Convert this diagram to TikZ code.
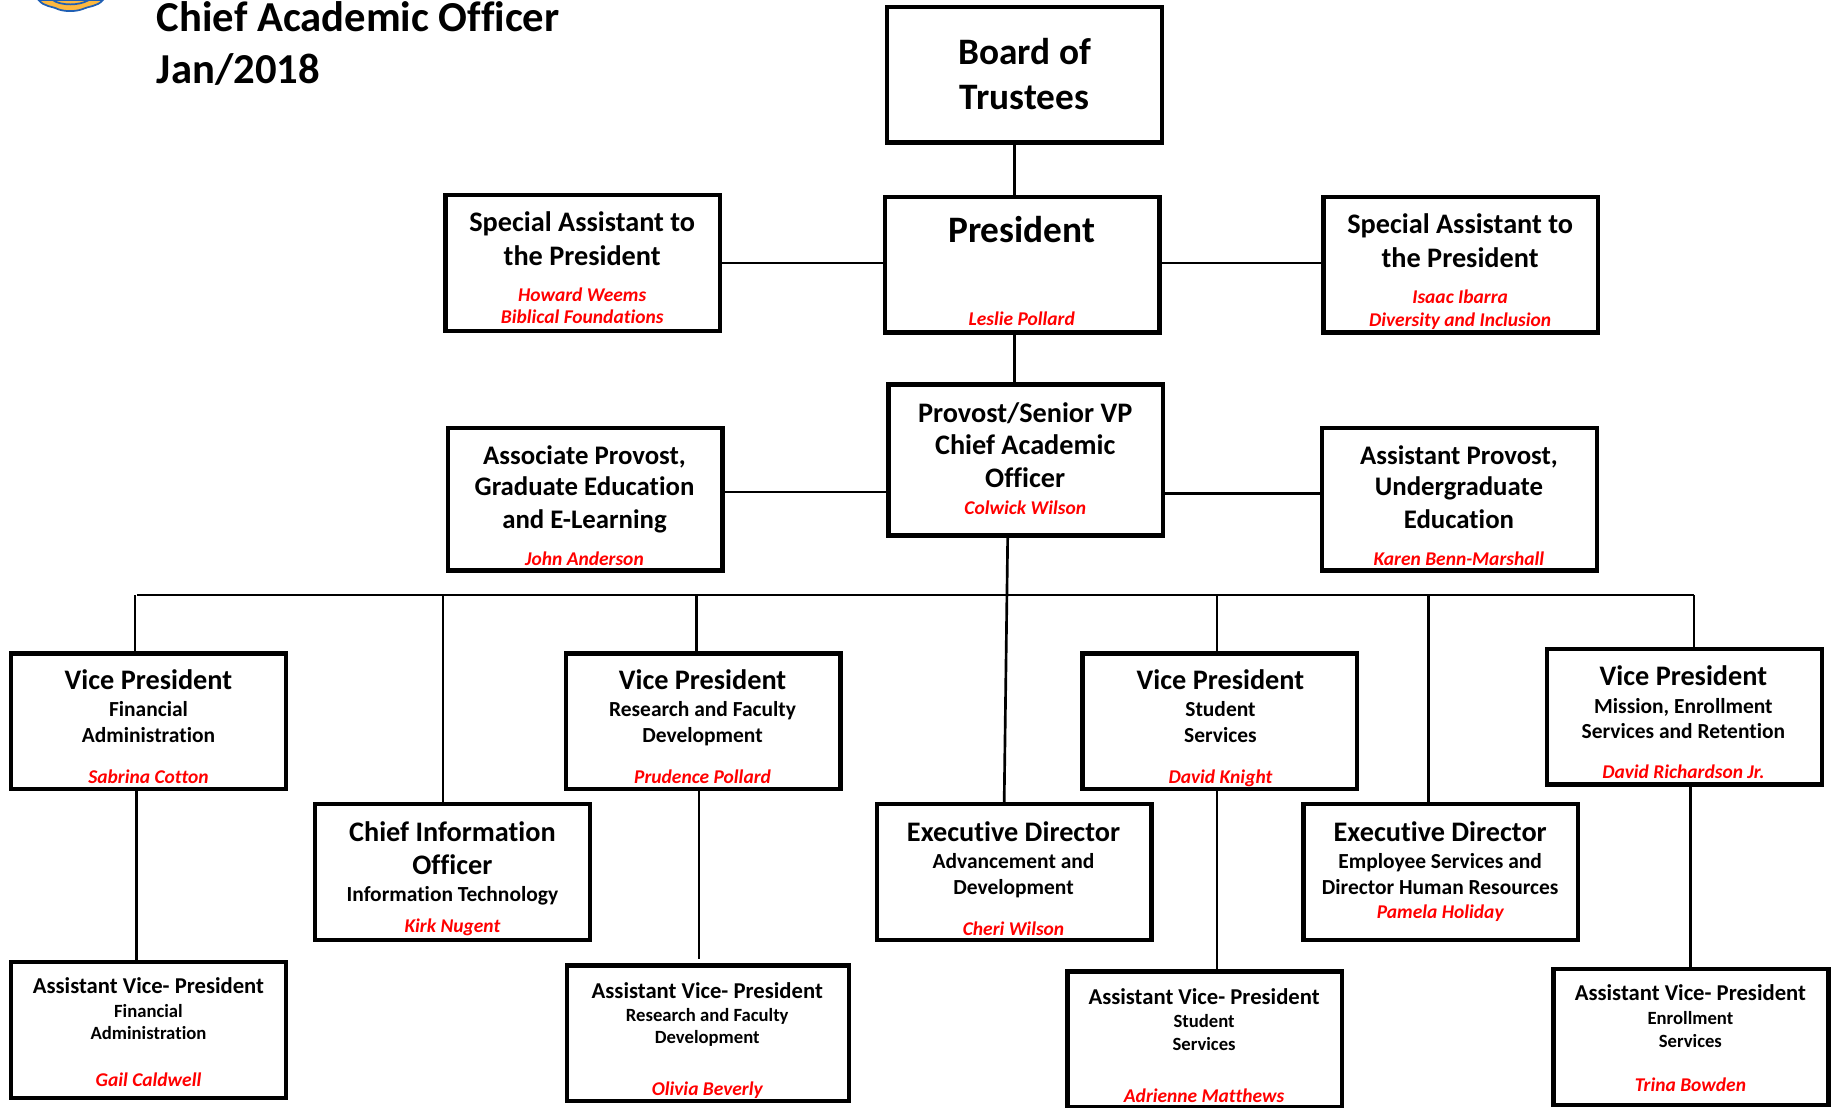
\documentclass[tikz,border=0pt]{standalone}
\usepackage{fontspec}
\setmainfont{Carlito}[Ligatures=NoCommon]
\definecolor{crestfill}{HTML}{FCB840}
\definecolor{crestline}{HTML}{1F5FB4}
\tikzset{
	orgbox/.style={draw, line width=3.3pt, minimum width=235*0.8767pt, minimum height=116*0.8767pt, inner sep=0pt},
	link/.style={line width=2pt},
	textbase/.style={anchor=base, inner sep=0pt, yshift=-0.9pt},
	headtext/.style={textbase, font=\bfseries\fontsize{21.2}{24}\selectfont},
	midhead/.style={textbase, font=\bfseries\fontsize{20.1}{24}\selectfont},
	bighead/.style={textbase, font=\bfseries\fontsize{28}{32}\selectfont},
	depttext/.style={textbase, font=\bfseries\fontsize{16.1}{19}\selectfont},
	smallhead/.style={textbase, font=\bfseries\fontsize{17}{20}\selectfont},
	smalldept/.style={textbase, font=\bfseries\fontsize{14}{17}\selectfont},
	persontext/.style={textbase, text=red, font=\bfseries\itshape\fontsize{14.6}{17}\selectfont},
	titletext/.style={anchor=base west, inner sep=0pt, font=\bfseries\fontsize{32}{36}\selectfont},
}
\begin{document}
\begin{tikzpicture}[x=0.8767pt, y=-0.8767pt]
	\useasboundingbox (0,0) rectangle (1568,947);
	% Crest, cut by the top edge
	\fill[crestfill, draw=crestline, line width=1.3pt] (33,0) .. controls (38,6) and (44,5) .. (50,8) .. controls (56,10) and (64,10) .. (70,8) .. controls (76,5) and (83,6) .. (88,0) -- cycle;
	\draw[crestline, line width=1.3pt] (45,0) .. controls (52,5) and (68,5) .. (76,0);

	% Heading
	\node[titletext] (heading1) at (134,27) {Chief Academic Officer};
	\node[titletext] (heading2) at (134,71) {Jan/2018};

	% Top of the chart
	\node[orgbox] (board) at (876.5,64) {};
	\node[bighead] (boardA) at (876.5,54) {Board of};
	\node[bighead] (boardB) at (876.5,93) {Trustees};

	\node[orgbox] (president) at (874.5,226.5) {};
	\node[bighead] (presidentA) at (874,206) {President};
	\node[persontext] (presidentP) at (874,277) {Leslie Pollard};

	\node[orgbox] (specleft) at (498.5,225) {};
	\node[headtext] (specleftA) at (498,197) {Special Assistant to};
	\node[headtext] (specleftB) at (498,226) {the President};
	\node[persontext] (specleftP) at (498,257) {Howard Weems};
	\node[persontext] (specleftQ) at (498,276) {Biblical Foundations};

	\node[orgbox] (specright) at (1249.5,226.5) {};
	\node[headtext] (specrightA) at (1249,199) {Special Assistant to};
	\node[headtext] (specrightB) at (1249,228) {the President};
	\node[persontext] (specrightP) at (1249,259) {Isaac Ibarra};
	\node[persontext] (specrightQ) at (1249,278) {Diversity and Inclusion};

	% Provost row
	\node[orgbox, minimum height=129*0.8767pt] (provost) at (877.5,393.5) {};
	\node[headtext] (provostA) at (877,360) {Provost/Senior VP};
	\node[headtext] (provostB) at (877,388) {Chief Academic};
	\node[headtext] (provostC) at (877,416) {Officer};
	\node[persontext] (provostP) at (877,439) {Colwick Wilson};

	\node[orgbox, minimum height=122*0.8767pt] (assocprov) at (500.5,427) {};
	\node[midhead] (assocprovA) at (500,396) {Associate Provost,};
	\node[midhead] (assocprovB) at (500,423) {Graduate Education};
	\node[midhead] (assocprovC) at (500,451) {and E-Learning};
	\node[persontext] (assocprovP) at (500,483) {John Anderson};

	\node[orgbox, minimum height=122*0.8767pt] (asstprov) at (1248.5,427) {};
	\node[midhead] (asstprovA) at (1248,396) {Assistant Provost,};
	\node[midhead] (asstprovB) at (1248,423) {Undergraduate};
	\node[midhead] (asstprovC) at (1248,451) {Education};
	\node[persontext] (asstprovP) at (1248,483) {Karen Benn-Marshall};

	% Vice presidents and directors
	\node[orgbox] (vpfin) at (127,617) {};
	\node[headtext] (vpfinA) at (127,589) {Vice President};
	\node[depttext] (vpfinB) at (127,612) {Financial};
	\node[depttext] (vpfinC) at (127,634) {Administration};
	\node[persontext] (vpfinP) at (127,669) {Sabrina Cotton};

	\node[orgbox] (cio) at (387,746) {};
	\node[headtext] (cioA) at (387,719) {Chief Information};
	\node[headtext] (cioB) at (387,747) {Officer};
	\node[depttext] (cioC) at (387,770) {Information Technology};
	\node[persontext] (cioP) at (387,797) {Kirk Nugent};

	\node[orgbox] (vpres) at (601.5,617) {};
	\node[headtext] (vpresA) at (601,589) {Vice President};
	\node[depttext] (vpresB) at (601,612) {Research and Faculty};
	\node[depttext] (vpresC) at (601,634) {Development};
	\node[persontext] (vpresP) at (601,669) {Prudence Pollard};

	\node[orgbox] (execadv) at (867.5,746) {};
	\node[headtext] (execadvA) at (867,719) {Executive Director};
	\node[depttext] (execadvB) at (867,742) {Advancement and};
	\node[depttext] (execadvC) at (867,764) {Development};
	\node[persontext] (execadvP) at (867,799) {Cheri Wilson};

	\node[orgbox] (vpstu) at (1043.5,617) {};
	\node[headtext] (vpstuA) at (1044,589) {Vice President};
	\node[depttext] (vpstuB) at (1044,612) {Student};
	\node[depttext] (vpstuC) at (1044,634) {Services};
	\node[persontext] (vpstuP) at (1044,669) {David Knight};

	\node[orgbox] (execemp) at (1232.5,746) {};
	\node[headtext] (execempA) at (1232,719) {Executive Director};
	\node[depttext] (execempB) at (1232,742) {Employee Services and};
	\node[depttext] (execempC) at (1232,764) {Director Human Resources};
	\node[persontext] (execempP) at (1232,785) {Pamela Holiday};

	\node[orgbox] (vpmis) at (1441,613) {};
	\node[headtext] (vpmisA) at (1440,585) {Vice President};
	\node[depttext] (vpmisB) at (1440,609) {Mission, Enrollment};
	\node[depttext] (vpmisC) at (1440,631) {Services and Retention};
	\node[persontext] (vpmisP) at (1440,665) {David Richardson Jr.};

	% Assistant vice presidents
	\node[orgbox] (avpfin) at (127,881) {};
	\node[smallhead] (avpfinA) at (127,849) {Assistant Vice- President};
	\node[smalldept] (avpfinB) at (127,869) {Financial};
	\node[smalldept] (avpfinC) at (127,888) {Administration};
	\node[persontext] (avpfinP) at (127,928) {Gail Caldwell};

	\node[orgbox, minimum width=241*0.8767pt] (avpres) at (605.5,884) {};
	\node[smallhead] (avpresA) at (605,853) {Assistant Vice- President};
	\node[smalldept] (avpresB) at (605,873) {Research and Faculty};
	\node[smalldept] (avpresC) at (605,892) {Development};
	\node[persontext] (avpresP) at (605,936) {Olivia Beverly};

	\node[orgbox] (avpstu) at (1030.5,889) {};
	\node[smallhead] (avpstuA) at (1030,858) {Assistant Vice- President};
	\node[smalldept] (avpstuB) at (1030,878) {Student};
	\node[smalldept] (avpstuC) at (1030,898) {Services};
	\node[persontext] (avpstuP) at (1030,942) {Adrienne Matthews};

	\node[orgbox] (avpenr) at (1446.5,887) {};
	\node[smallhead] (avpenrA) at (1446,855) {Assistant Vice- President};
	\node[smalldept] (avpenrB) at (1446,875) {Enrollment};
	\node[smalldept] (avpenrC) at (1446,895) {Services};
	\node[persontext] (avpenrP) at (1446,933) {Trina Bowden};

	% Horizontal bus under the provost
	\coordinate (busL) at (117,509);
	\coordinate (busR) at (1449,509);
	\draw[link] (busL) -- (busR);

	% Connectors
	\draw[link] (868,0 |- board.south) -- (868,0 |- president.north);
	\draw[link] (868,0 |- president.south) -- (868,0 |- provost.north);
	\draw[link] (specleft.east |- 0,225) -- (president.west |- 0,225);
	\draw[link] (president.east |- 0,225) -- (specright.west |- 0,225);
	\draw[link] (assocprov.east |- 0,421) -- (provost.west |- 0,421);
	\draw[link] (provost.east |- 0,422) -- (asstprov.west |- 0,422);
	\draw[link] (862,0 |- provost.south) -- (859,0 |- execadv.north);
	\draw[link] (115.5,509) -- (115.5,0 |- vpfin.north);
	\draw[link] (379,509) -- (379,0 |- cio.north);
	\draw[link] (596,509) -- (596,0 |- vpres.north);
	\draw[link] (1041,509) -- (1041,0 |- vpstu.north);
	\draw[link] (1222,509) -- (1222,0 |- execemp.north);
	\draw[link] (1449,509) -- (1449,0 |- vpmis.north);
	\draw[link] (117,0 |- vpfin.south) -- (117,0 |- avpfin.north);
	\coordinate (avpresgap) at (598,820);
	\draw[link] (598,0 |- vpres.south) -- (avpresgap);
	\draw[link] (1041,0 |- vpstu.south) -- (1041,0 |- avpstu.north);
	\draw[link] (1446,0 |- vpmis.south) -- (1446,0 |- avpenr.north);
\end{tikzpicture}
\end{document}
